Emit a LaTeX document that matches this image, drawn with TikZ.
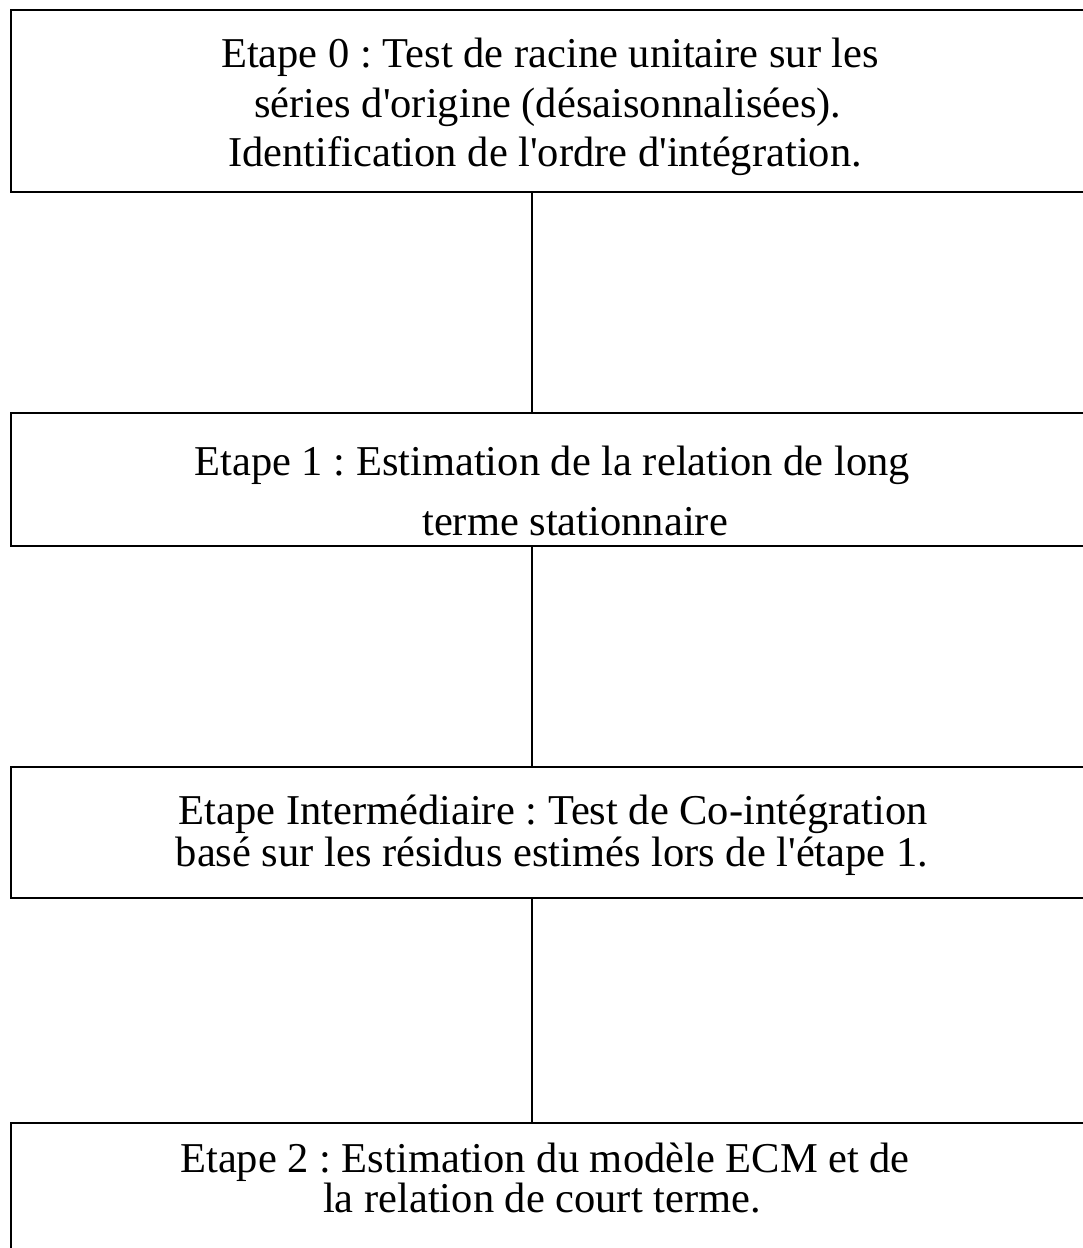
\documentclass[tikz,border=0pt]{standalone}
\usepackage{fontspec}
\setmainfont{Liberation Serif}[Ligatures=TeXOff]
\frenchspacing
\begin{document}
\begin{tikzpicture}[x=1pt,y=-1pt,
  stepbox/.style={draw=black,line width=2pt,rectangle,anchor=north west,inner sep=0pt,outer sep=0pt},
  txt/.style={anchor=base,inner sep=0pt,font=\fontsize{42.5}{46}\selectfont},
  link/.style={draw=black,line width=1.8pt}]
\useasboundingbox (0,0) rectangle (1083,1248);
\clip (0,0) rectangle (1083,1248);
\fill[white] (0,0) rectangle (1083,1248);
% boxes
\node[stepbox,minimum width=1100pt,minimum height=182pt] (b0) at (11,10) {};
\node[stepbox,minimum width=1100pt,minimum height=133pt] (b1) at (11,413) {};
\node[stepbox,minimum width=1100pt,minimum height=131pt] (b2) at (11,767) {};
\node[stepbox,minimum width=1100pt,minimum height=150pt] (b3) at (11,1123) {};
% texts
\node[txt] (t0a) at (550,67) {Etape 0 : Test de racine unitaire sur les};
\node[txt] (t0b) at (548,117) {séries d'origine (désaisonnalisées).};
\node[txt] (t0c) at (545,166) {Identification de l'ordre d'intégration.};
\node[txt] (t1a) at (552,475) {Etape 1 : Estimation de la relation de long};
\node[txt] (t1b) at (575,535) {terme stationnaire};
\node[txt] (t2a) at (553,824) {Etape Intermédiaire : Test de Co-intégration};
\node[txt] (t2b) at (552,866) {basé sur les résidus estimés lors de l'étape 1.};
\node[txt] (t3a) at (545,1172) {Etape 2 : Estimation du modèle ECM et de};
\node[txt] (t3b) at (542,1212) {la relation de court terme.};
% connectors
\coordinate (cx) at (532,0);
\draw[link] (b0.south -| cx) -- (b1.north -| cx);
\draw[link] (b1.south -| cx) -- (b2.north -| cx);
\draw[link] (b2.south -| cx) -- (b3.north -| cx);
\end{tikzpicture}
\end{document}
